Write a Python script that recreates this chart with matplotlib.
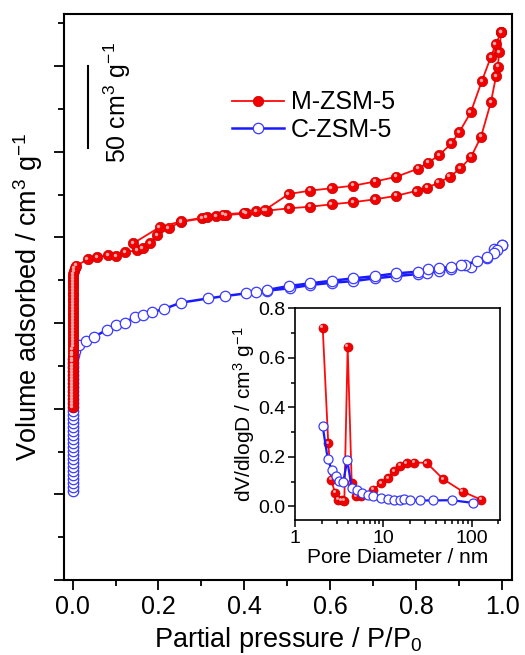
import numpy as np
import matplotlib
matplotlib.use('Agg')
import matplotlib.pyplot as plt
from matplotlib.ticker import MultipleLocator, LogLocator, NullFormatter, FormatStrFormatter
from matplotlib.transforms import offset_copy
from matplotlib.lines import Line2D

plt.rcParams['font.family'] = ['Liberation Sans', 'DejaVu Sans']
plt.rcParams['mathtext.default'] = 'regular'

# ---- isotherms (P/P0, volume in cm3/g, arbitrary offset) ----
# M-ZSM-5, steep micropore uptake at P/P0 ~ 0
m_stack_y = [101.0, 102.7, 104.5, 106.2, 108.0, 109.8, 111.5, 113.3, 115.0, 116.8,
             118.6, 120.3, 122.1, 123.8, 125.6, 127.4, 129.1, 130.9, 132.6, 134.4,
             136.2, 137.9, 139.7, 141.4, 143.2, 145.0, 146.7, 148.5, 150.2, 152.0,
             153.8, 155.5, 157.3, 159.0, 160.8, 162.6, 164.3, 166.1, 167.8, 169.6,
             171.4, 173.1, 174.9, 176.6, 178.4, 180.2, 181.9, 183.5]
m_stack_x = [0.0003, 0.0003, 0.0003, 0.0003, 0.0003, 0.0003, 0.0003, 0.0003, 0.0003, 0.0003,
             0.0004, 0.0004, 0.0004, 0.0004, 0.0004, 0.0004, 0.0004, 0.0004, 0.0004, 0.0004,
             0.0005, 0.0005, 0.0005, 0.0005, 0.0005, 0.0005, 0.0005, 0.0005, 0.0005, 0.0005,
             0.0006, 0.0006, 0.0006, 0.0006, 0.0006, 0.0007, 0.0007, 0.0007, 0.0008, 0.0008,
             0.0009, 0.0010, 0.0012, 0.0015, 0.0020, 0.0030, 0.0050, 0.0090]
m_ads_x = [0.035, 0.057, 0.083, 0.101, 0.122, 0.151, 0.163, 0.180, 0.197, 0.224,
           0.252, 0.302, 0.335, 0.358, 0.404, 0.428, 0.452, 0.505, 0.553, 0.603,
           0.654, 0.704, 0.754, 0.801, 0.825, 0.852, 0.878, 0.903, 0.928, 0.951,
           0.974, 0.986, 0.990, 0.993, 0.998]
m_ads_y = [187.2, 188.5, 189.5, 189.1, 191.3, 192.6, 193.6, 196.5, 201.2, 205.5,
           209.0, 211.1, 212.5, 213.0, 214.0, 215.2, 215.6, 217.0, 217.9, 219.3,
           220.6, 222.2, 224.3, 227.2, 229.0, 231.9, 235.4, 240.3, 247.1, 258.8,
           279.0, 294.2, 299.6, 308.0, 320.0]
m_des_x = [0.998, 0.985, 0.974, 0.953, 0.927, 0.900, 0.882, 0.854, 0.828, 0.804,
           0.754, 0.704, 0.654, 0.603, 0.553, 0.503, 0.447, 0.400, 0.350, 0.312,
           0.252, 0.203, 0.141]
m_des_y = [320.0, 312.7, 305.4, 291.4, 273.0, 261.3, 254.9, 248.1, 243.6, 240.1,
           235.4, 232.6, 230.2, 228.7, 227.3, 225.3, 215.9, 214.4, 213.3, 211.9,
           209.3, 206.0, 196.5]

# C-ZSM-5
c_stack_y = [52.0, 54.3, 56.6, 59.0, 61.3, 63.6, 66.0, 68.3, 70.6, 73.0,
             75.3, 77.6, 80.0, 82.3, 84.6, 87.0, 89.3, 91.6, 94.0, 96.3,
             98.6, 101.0, 103.3, 105.6, 108.0, 110.3, 112.6, 115.0, 117.3, 119.6,
             122.0, 124.3, 126.6, 129.0, 131.3, 133.6]
c_stack_x = [0.0003, 0.0003, 0.0003, 0.0003, 0.0003, 0.0003, 0.0003, 0.0003, 0.0003, 0.0003,
             0.0004, 0.0004, 0.0004, 0.0004, 0.0004, 0.0004, 0.0004, 0.0004, 0.0004, 0.0004,
             0.0005, 0.0005, 0.0005, 0.0005, 0.0005, 0.0005, 0.0006, 0.0006, 0.0006, 0.0007,
             0.0008, 0.0009, 0.0011, 0.0015, 0.0025, 0.0050]
c_ads_x = [0.0147, 0.031, 0.050, 0.079, 0.101, 0.122, 0.145, 0.164, 0.184, 0.213,
           0.252, 0.316, 0.356, 0.403, 0.427, 0.452, 0.506, 0.553, 0.603, 0.654,
           0.704, 0.754, 0.804, 0.825, 0.854, 0.880, 0.928, 0.964, 0.981, 0.999]
c_ads_y = [137.2, 139.7, 142.0, 145.9, 148.8, 150.2, 153.7, 154.7, 156.3, 158.2,
           161.9, 164.4, 165.8, 167.3, 168.3, 168.9, 170.3, 172.2, 173.5, 174.5,
           176.1, 177.4, 178.6, 179.0, 180.5, 181.7, 182.9, 187.8, 193.0, 195.4]
c_des_x = [0.999, 0.988, 0.981, 0.964, 0.941, 0.914, 0.905, 0.880, 0.854, 0.828,
           0.804, 0.754, 0.704, 0.654, 0.603, 0.553, 0.503, 0.452]
c_des_y = [195.4, 192.6, 190.7, 188.7, 186.2, 183.9, 183.9, 182.9, 181.9, 181.4,
           180.0, 179.0, 177.4, 176.1, 174.7, 173.2, 171.6, 169.3]

# ---- pore size distribution (inset) ----
m_pd = [2.06, 2.38, 2.56, 2.84, 3.09, 3.38, 3.62, 3.95, 4.39, 4.91, 5.55,
        7.7, 9.42, 11.4, 13.2, 15.5, 18.4, 22.4, 31.0, 47.8, 79.3, 128]
m_dv = [0.722, 0.256, 0.108, 0.056, 0.027, 0.025, 0.023, 0.645, 0.094, 0.040, 0.043,
        0.067, 0.094, 0.115, 0.141, 0.165, 0.175, 0.177, 0.176, 0.110, 0.060, 0.027]
c_pd = [2.06, 2.35, 2.60, 2.91, 3.18, 3.52, 3.91, 4.39, 5.0, 5.7, 6.63,
        7.7, 9.42, 11.4, 13.2, 15.5, 17.3, 20.0, 26.1, 36.7, 59.3, 104]
c_dv = [0.323, 0.191, 0.148, 0.121, 0.104, 0.100, 0.186, 0.074, 0.067, 0.056, 0.047,
        0.040, 0.034, 0.030, 0.027, 0.025, 0.028, 0.025, 0.024, 0.024, 0.025, 0.014]

RED = '#ff0a0a'
BLUE = '#1a1aff'
MS = 7.5

fig = plt.figure(figsize=(5.25, 6.55), dpi=100)
ax = fig.add_axes([0.1219, 0.1145, 0.8533, 0.8641])


def red_series(a, x, y, ms, lw=1.3, zorder=3):
    a.plot(x, y, '-', color=RED, lw=lw, marker='o', ms=ms, mfc='#f20000',
           mec='#c80000', mew=0.5, zorder=zorder)
    hl = offset_copy(a.transData, fig=fig, x=-1.3, y=1.3, units='dots')
    a.plot(x, y, 'o', ms=ms * 0.33, color='#ffa8a8', mew=0, transform=hl,
           zorder=zorder + 0.1)


def blue_series(a, x, y, ms, lw=1.8, zorder=2):
    a.plot(x, y, '-', color=BLUE, lw=lw, marker='o', ms=ms, mfc='white',
           mec='#3a3aff', mew=0.9, zorder=zorder)


blue_series(ax, c_stack_x + c_ads_x, c_stack_y + c_ads_y, MS)
blue_series(ax, c_des_x, c_des_y, MS)
red_series(ax, m_stack_x + m_ads_x, m_stack_y + m_ads_y, MS)
red_series(ax, m_des_x, m_des_y, MS)

ax.set_xlim(-0.02, 1.023)
ax.set_ylim(0, 330.4)
ax.xaxis.set_major_locator(MultipleLocator(0.2))
ax.xaxis.set_minor_locator(MultipleLocator(0.1))
ax.xaxis.set_major_formatter(FormatStrFormatter('%.1f'))
ax.yaxis.set_major_locator(MultipleLocator(50))
ax.yaxis.set_minor_locator(MultipleLocator(25))
ax.yaxis.set_major_formatter(NullFormatter())
ax.tick_params(which='both', direction='out', top=False, right=False, width=1.3)
ax.tick_params(which='major', length=7, labelsize=18, pad=4)
ax.tick_params(which='minor', length=4)
for s in ax.spines.values():
    s.set_linewidth(1.5)

ax.set_xlabel('Partial pressure / P/P$_0$', fontsize=19.5, labelpad=4)
ax.set_ylabel('Volume adsorbed / cm$^3$ g$^{-1}$', fontsize=19.5, labelpad=3)

# scale bar
ax.plot([0.036, 0.036], [252, 300], color='black', lw=1.5)
ax.text(0.105, 279, '50 cm$^3$ g$^{-1}$', rotation=90, ha='center', va='center',
        fontsize=18)

# legend
h_m = Line2D([], [], color=RED, lw=1.3, marker='o', ms=MS, mfc='#f20000', mec='#c80000', mew=0.5)
h_c = Line2D([], [], color=BLUE, lw=1.8, marker='o', ms=MS, mfc='white', mec='#3a3aff', mew=0.9)
ax.legend([h_m, h_c], ['M-ZSM-5', 'C-ZSM-5'], loc='upper left',
          bbox_to_anchor=(0.375, 0.865), frameon=False, fontsize=18,
          handlelength=2.1, handletextpad=0.25, labelspacing=0.15,
          borderpad=0, borderaxespad=0, numpoints=1)

# ---- inset ----
ins = fig.add_axes([0.5619, 0.2061, 0.3905, 0.3232])
red_series(ins, m_pd, m_dv, 6.5, lw=1.3, zorder=2)
blue_series(ins, c_pd, c_dv, 6.5, lw=1.6, zorder=3)
ins.set_xscale('log')
ins.set_xlim(1, 210)
ins.set_ylim(-0.055, 0.8)
ins.set_xticks([1, 10, 100])
ins.set_xticklabels(['1', '10', '100'])
ins.xaxis.set_minor_locator(LogLocator(base=10, subs=np.arange(2, 10)))
ins.xaxis.set_minor_formatter(NullFormatter())
ins.yaxis.set_major_locator(MultipleLocator(0.2))
ins.yaxis.set_minor_locator(MultipleLocator(0.1))
ins.yaxis.set_major_formatter(FormatStrFormatter('%.1f'))
ins.tick_params(which='both', direction='out', top=False, right=False, width=1.1)
ins.tick_params(which='major', length=5, labelsize=14, pad=2)
ins.tick_params(which='minor', length=3)
for s in ins.spines.values():
    s.set_linewidth(1.2)
ins.set_xlabel('Pore Diameter / nm', fontsize=15, labelpad=1)
ins.set_ylabel('dV/dlogD / cm$^3$ g$^{-1}$', fontsize=15, labelpad=1)

fig.savefig('out.png', dpi=100)
